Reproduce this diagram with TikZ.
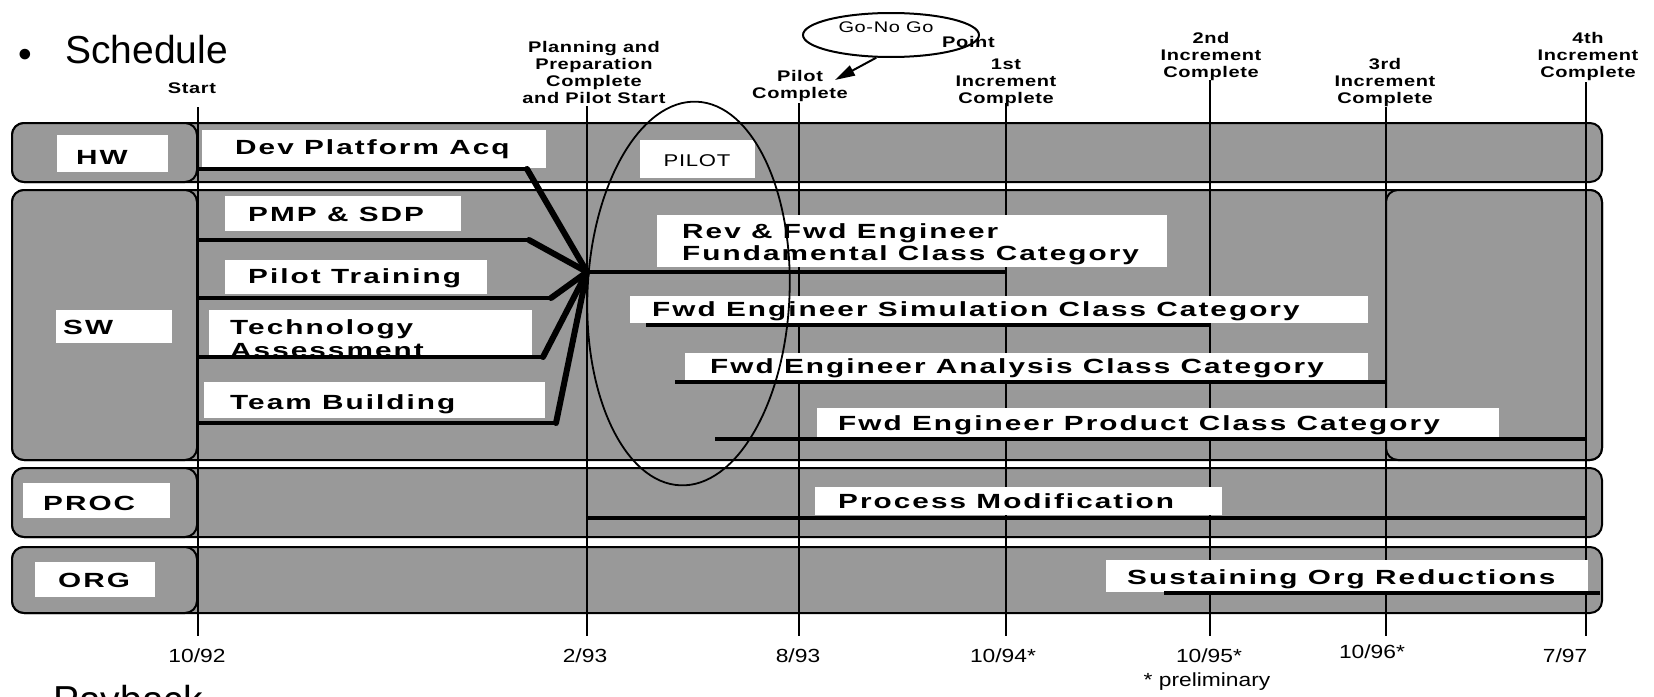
\documentclass[tikz,border=0pt]{standalone}
\usepackage{fontspec}
\setmainfont{Liberation Sans}
\newfontfamily\tkfont[FakeStretch=1.45,LetterSpace=10]{Liberation Sans}
\newfontfamily\mlfont[FakeStretch=1.3,LetterSpace=4]{Liberation Sans}
\newfontfamily\dtfont[FakeStretch=1.2]{Liberation Sans}
\usetikzlibrary{arrows.meta,shapes.geometric}
\definecolor{bandgray}{gray}{0.6}
\newcommand{\mstack}[2][c]{\begin{tabular}[b]{@{}#1@{}}#2\end{tabular}}
\begin{document}
\begin{tikzpicture}[x=1pt,y=-1pt,
  band/.style={draw=black,line width=2,fill=bandgray,rounded corners=12},
  mline/.style={draw=black,line width=2.5},
  wbox/.style={fill=white},
  bar/.style={draw=black,line width=4.5},
  diag/.style={draw=black,line width=6,line cap=round},
  tasktext/.style={font=\tkfont\bfseries\fontsize{20.5}{21.5}\selectfont,inner sep=0,anchor=base west},
  mlabel/.style={font=\mlfont\bfseries\fontsize{15.4}{16.7}\selectfont,inner sep=0,anchor=base},
  mlreg/.style={font=\mlfont\fontsize{15.4}{16.7}\selectfont,inner sep=0,anchor=base},
  datetext/.style={font=\dtfont\fontsize{19}{21}\selectfont,inner sep=0,anchor=base},
  headtext/.style={font=\fontsize{39}{44}\selectfont,inner sep=0,anchor=base west}
]
\fill[white] (0,0) rectangle (1654,696);
\useasboundingbox (0,0) rectangle (1654,696);

% headings
\node[headtext] (bullet) at (18,67) {•};
\node[headtext] (title) at (65,63) {Schedule};
\node[headtext] (payback) at (53,713) {Payback};

% bands
\path[band] (12,123) rectangle (1602,182);
\path[band] (12,190) rectangle (1602,460);
\path[band] (12,468) rectangle (1602,537);
\path[band] (12,547) rectangle (1602,613);
% left cells
\path[band] (12,123) rectangle (197,182);
\path[band] (12,190) rectangle (197,460);
\path[band] (12,468) rectangle (197,537);
\path[band] (12,547) rectangle (197,613);
% right SW cell
\path[band] (1386,190) rectangle (1602,460);

% milestone lines
\draw[mline] (198,107) -- (198,636);
\draw[mline] (587,106) -- (587,636);
\draw[mline] (799,103) -- (799,636);
\draw[mline] (1006,103) -- (1006,636);
\draw[mline] (1210,80) -- (1210,636);
\draw[mline] (1386,107) -- (1386,636);
\draw[mline] (1586,82) -- (1586,636);

% white boxes
\fill[wbox] (57,135) rectangle (168,172);
\fill[wbox] (56,310) rectangle (172,343);
\fill[wbox] (23,483) rectangle (170,518);
\fill[wbox] (35,562) rectangle (155,597);
\fill[wbox] (202,130) rectangle (546,168);
\fill[wbox] (225,196) rectangle (461,231);
\fill[wbox] (225,260) rectangle (487,294);
\fill[wbox] (209,310) rectangle (532,355);
\fill[wbox] (204,382) rectangle (545,418);
\fill[wbox] (640,140) rectangle (755,178);
\fill[wbox] (657,215) rectangle (1167,267);
\fill[wbox] (630,296) rectangle (1368,323);
\fill[wbox] (685,353) rectangle (1368,380);
\fill[wbox] (817,408) rectangle (1499,437);
\fill[wbox] (815,487) rectangle (1222,515);
\fill[wbox] (1106,560) rectangle (1588,592);

% row labels
\node[tasktext] (hw) at (76,164) {HW};
\node[tasktext] (sw) at (63,334) {SW};
\node[tasktext] (proc) at (43,510) {PROC};
\node[tasktext] (org) at (58,587) {ORG};

% task texts
\node[tasktext] (tdev) at (235,154) {Dev Platform Acq};
\node[tasktext] (tpmp) at (248,221) {PMP \& SDP};
\node[tasktext] (tpilot) at (248,283) {Pilot Training};
\node[tasktext,font=\tkfont\bfseries\fontsize{20.5}{23}\selectfont] (ttech) at (230,357) {\mstack[l]{Technology\\Assessment}};
\node[tasktext] (tteam) at (230,409) {Team Building};
\node[mlreg,font=\mlfont\fontsize{17}{19}\selectfont] (tpilotbox) at (697,166) {PILOT};
\node[tasktext,font=\tkfont\bfseries\fontsize{20.5}{21}\selectfont] (trev) at (682,260) {\mstack[l]{Rev \& Fwd Engineer\\Fundamental Class Category}};
\node[tasktext] (tsim) at (652,316) {Fwd Engineer Simulation Class Category};
\node[tasktext] (tana) at (710,373) {Fwd Engineer Analysis Class Category};
\node[tasktext] (tprod) at (838,430) {Fwd Engineer Product Class Category};
\node[tasktext] (tproc) at (838,508) {Process Modification};
\node[tasktext] (tsust) at (1127,584) {Sustaining Org Reductions};

% bars and convergence
\coordinate (conv) at (587,272);
\coordinate (devend) at (527,169);
\coordinate (pmpend) at (529,240);
\coordinate (pilend) at (551,298);
\coordinate (tecend) at (543,357);
\coordinate (teaend) at (556,423);
\draw[bar] (198,169) -- (devend);
\draw[bar] (198,240) -- (pmpend);
\draw[bar] (198,298) -- (pilend);
\draw[bar] (198,357) -- (tecend);
\draw[bar] (198,423) -- (teaend);
\draw[diag] (devend) -- (conv);
\draw[diag] (pmpend) -- (conv);
\draw[diag] (pilend) -- (conv);
\draw[diag] (tecend) -- (conv);
\draw[diag] (teaend) -- (conv);
\draw[bar] (conv) -- (1006,272);
\draw[bar] (646,325) -- (1210,325);
\draw[bar] (675,382) -- (1386,382);
\draw[bar] (715,439) -- (1586,439);
\draw[bar] (587,518) -- (1586,518);
\draw[bar] (1164,593) -- (1600,593);

% pilot ellipse
\begin{scope}[shift={(688.5,293.5)},rotate=-2.5]
\draw[line width=1.8] (0,0) ellipse [x radius=101, y radius=192];
\end{scope}

% milestone labels
\node[mlabel] (lstart) at (192,93) {Start};
\node[mlabel] (lplan) at (594,103) {\mstack{Planning and\\Preparation\\Complete\\and Pilot Start}};
\node[mlabel] (lpilot) at (800,98) {\mstack{Pilot\\Complete}};
\node[mlabel] (l1st) at (1006,103) {\mstack{1st\\Increment\\Complete}};
\node[mlabel] (l2nd) at (1211,77) {\mstack{2nd\\Increment\\Complete}};
\node[mlabel] (l3rd) at (1385,103) {\mstack{3rd\\Increment\\Complete}};
\node[mlabel] (l4th) at (1588,77) {\mstack{4th\\Increment\\Complete}};

% go-no go
\node[draw,ellipse,line width=2,minimum width=176,minimum height=44,inner sep=0] (gng) at (891,35) {};
\node[mlreg] (gngtext) at (886,32) {Go-No Go};
\node[mlabel,anchor=base west] (gngpoint) at (942,47) {Point};
\coordinate (gtip) at (835,80);
\draw[line width=2,-{Triangle[length=20pt,width=11pt]}] (gng.237) -- (gtip);

% dates
\node[datetext] (d1) at (197,662) {10/92};
\node[datetext] (d2) at (585,662) {2/93};
\node[datetext] (d3) at (798,662) {8/93};
\node[datetext] (d4) at (1003,662) {10/94*};
\node[datetext] (d5) at (1209,662) {10/95*};
\node[datetext] (d6) at (1372,658) {10/96*};
\node[datetext] (d7) at (1565,662) {7/97};
\node[datetext] (dprel) at (1207,686) {* preliminary};
\end{tikzpicture}
\end{document}
